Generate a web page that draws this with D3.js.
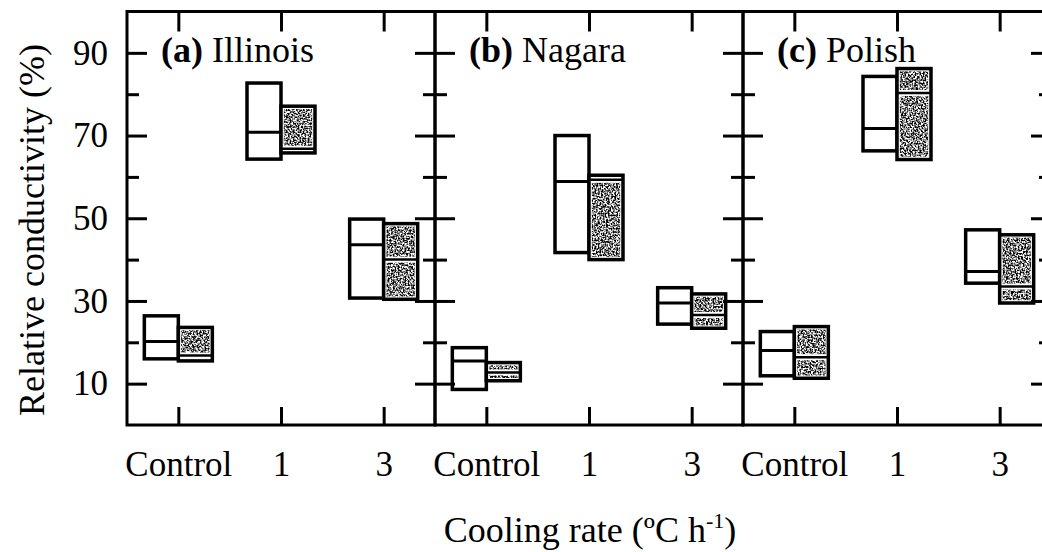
<!DOCTYPE html>
<html><head><meta charset="utf-8">
<script src="https://cdn.jsdelivr.net/npm/d3@7/dist/d3.min.js"></script>
<style>
body{margin:0;background:#fff}
svg{display:block}
.tick line{stroke:#000;stroke-width:3}
text{font-family:"Liberation Serif","Times New Roman",serif;fill:#000}
</style>
</head><body>
<svg id="chart" width="1042" height="552"></svg>
<script>
const cultivars = ["Illinois", "Nagara", "Polish"];
const panelLetters = ["(a)", "(b)", "(c)"];
const coolingRates = ["Control", "1", "3"];
const majorTicks = [10, 30, 50, 70, 90];
const minorTicks = [20, 40, 60, 80];
// [low, median, high] for each cooling rate (Control, 1, 3)
const illinoisOpen   = [[16.0, 20.2, 26.4], [64.3, 70.8, 82.7], [30.7, 43.6, 49.8]];
const illinoisShaded = [[15.5, 16.8, 23.6], [65.8, 66.8, 77.1], [30.4, 40.0, 48.7]];
const nagaraOpen     = [[8.6, 15.5, 18.7], [41.7, 58.9, 70.0], [24.4, 29.5, 33.2]];
const nagaraShaded   = [[10.7, 12.7, 15.1], [40.0, 59.3, 60.4], [23.4, 26.6, 31.7]];
const polishOpen     = [[11.9, 18.0, 22.6], [66.3, 71.7, 84.3], [34.3, 37.1, 47.2]];
const polishShaded   = [[11.3, 16.4, 23.8], [64.2, 80.3, 86.2], [29.5, 33.5, 46.0]];

const openSets = [illinoisOpen, nagaraOpen, polishOpen];
const shadedSets = [illinoisShaded, nagaraShaded, polishShaded];

const svg = d3.select("#chart");
const plotLeft = 127, panelW = 308, plotTop = 11.5, plotBottom = 425;
const boxW = 34, boxStroke = 3.5;

const defs = svg.append("defs");
const f = defs.append("filter").attr("id", "noise")
  .attr("x", 0).attr("y", 0).attr("width", 1).attr("height", 1)
  .attr("color-interpolation-filters", "sRGB");
f.append("feTurbulence").attr("type", "fractalNoise")
  .attr("baseFrequency", 0.6).attr("numOctaves", 2).attr("seed", 3).attr("result", "t");
f.append("feColorMatrix").attr("in", "t").attr("type", "matrix")
  .attr("values", "3.6 0 0 0 -1.3  3.6 0 0 0 -1.3  3.6 0 0 0 -1.3  0 0 0 0 1").attr("result", "g");
f.append("feComposite").attr("in", "g").attr("in2", "SourceGraphic").attr("operator", "in");

const y = d3.scaleLinear().domain([0, 100]).range([plotBottom, plotTop]);

function styleAxis(g, size) {
  g.select(".domain").remove();
  g.attr("font-size", size).attr("font-family", null);
  g.selectAll("text").attr("fill", "#000");
}

cultivars.forEach((name, i) => {
  const x0 = plotLeft + i * panelW;
  const x = d3.scalePoint().domain(coolingRates).range([x0, x0 + panelW]).padding(0.5);
  const pg = svg.append("g");

  // boxes
  coolingRates.forEach((c, j) => {
    const cx = x(c);
    const o = openSets[i][j];
    const s = shadedSets[i][j];
    // open box
    pg.append("rect").attr("x", cx - boxW).attr("y", y(o[2]))
      .attr("width", boxW).attr("height", y(o[0]) - y(o[2]))
      .attr("fill", "#fff").attr("stroke", "#000").attr("stroke-width", boxStroke);
    pg.append("line").attr("x1", cx - boxW).attr("x2", cx)
      .attr("y1", y(o[1])).attr("y2", y(o[1]))
      .attr("stroke", "#000").attr("stroke-width", 3);
    // shaded box
    const sy = y(s[2]), sh = y(s[0]) - y(s[2]);
    pg.append("rect").attr("x", cx).attr("y", sy)
      .attr("width", boxW).attr("height", sh).attr("fill", "#fff");
    pg.append("rect").attr("x", cx + 2.8).attr("y", sy + 2.8)
      .attr("width", boxW - 5.6).attr("height", Math.max(0, sh - 5.6))
      .attr("fill", "#888").attr("filter", "url(#noise)");
    pg.append("line").attr("x1", cx + 2).attr("x2", cx + boxW - 2)
      .attr("y1", y(s[1])).attr("y2", y(s[1]))
      .attr("stroke", "#fff").attr("stroke-width", 6);
    pg.append("line").attr("x1", cx).attr("x2", cx + boxW)
      .attr("y1", y(s[1])).attr("y2", y(s[1]))
      .attr("stroke", "#000").attr("stroke-width", 2.5);
    pg.append("rect").attr("x", cx).attr("y", sy)
      .attr("width", boxW).attr("height", sh)
      .attr("fill", "none").attr("stroke", "#000").attr("stroke-width", boxStroke);
  });

  // axes
  pg.append("g").attr("transform", `translate(0,${plotTop})`)
    .call(d3.axisTop(x).tickSizeInner(-20).tickSizeOuter(0).tickFormat(""))
    .call(g => styleAxis(g, 35));
  pg.append("g").attr("transform", `translate(0,${plotBottom})`)
    .call(d3.axisBottom(x).tickSizeInner(-18).tickSizeOuter(0).tickPadding(26))
    .call(g => styleAxis(g, 35));
  const la = d3.axisLeft(y).tickValues(majorTicks).tickSizeInner(-20).tickSizeOuter(0).tickPadding(19);
  if (i > 0) la.tickFormat("");
  pg.append("g").attr("transform", `translate(${x0},0)`).call(la).call(g => styleAxis(g, 35));
  pg.append("g").attr("transform", `translate(${x0},0)`)
    .call(d3.axisLeft(y).tickValues(minorTicks).tickSizeInner(-12).tickSizeOuter(0).tickFormat(""))
    .call(g => styleAxis(g, 35));
  pg.append("g").attr("transform", `translate(${x0 + panelW},0)`)
    .call(d3.axisRight(y).tickValues(majorTicks).tickSizeInner(-20).tickSizeOuter(0).tickFormat(""))
    .call(g => styleAxis(g, 35));
  pg.append("g").attr("transform", `translate(${x0 + panelW},0)`)
    .call(d3.axisRight(y).tickValues(minorTicks).tickSizeInner(-12).tickSizeOuter(0).tickFormat(""))
    .call(g => styleAxis(g, 35));

  // frame
  pg.append("rect").attr("x", x0).attr("y", plotTop).attr("width", panelW).attr("height", plotBottom - plotTop)
    .attr("fill", "none").attr("stroke", "#000").attr("stroke-width", 3);

  // title
  const t = pg.append("text").attr("x", x0 + 34).attr("y", 62).attr("font-size", 36);
  t.append("tspan").attr("font-weight", "bold").text(panelLetters[i]);
  t.append("tspan").text(" " + name);
});

// axis titles
svg.append("text").attr("transform", "translate(44,230) rotate(-90)")
  .attr("text-anchor", "middle").attr("font-size", 36).text("Relative conductivity (%)");

const xl = svg.append("text").attr("x", 590).attr("y", 542)
  .attr("text-anchor", "middle").attr("font-size", 36);
xl.append("tspan").text("Cooling rate (ºC h");
xl.append("tspan").attr("font-size", 22).attr("dy", -14).text("-1");
xl.append("tspan").attr("dy", 14).text(")");
</script>
</body></html>
